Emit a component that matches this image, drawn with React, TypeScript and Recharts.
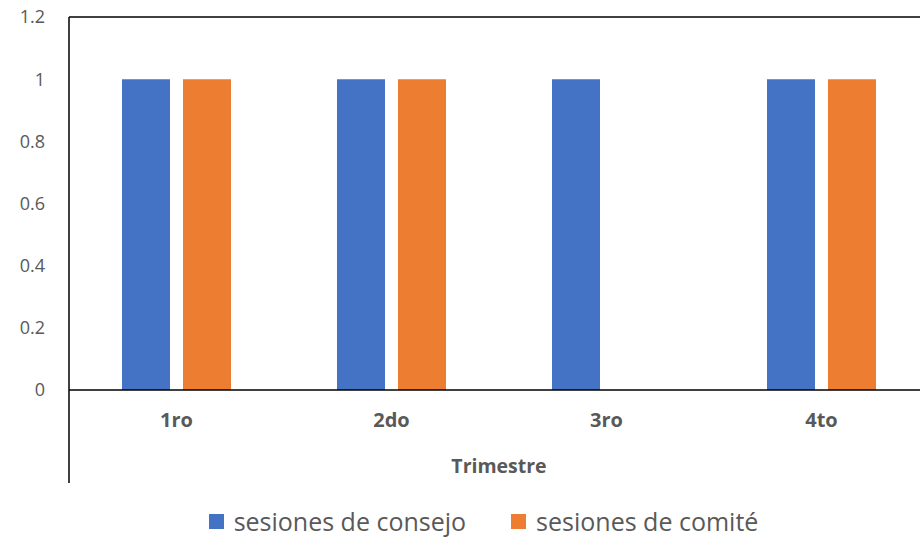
import React from 'react';
import { BarChart, Bar, XAxis, YAxis, Legend, ReferenceLine } from 'recharts';

const trimestres = ['1ro', '2do', '3ro', '4to'];
const sesionesConsejo = [1, 1, 1, 1];
const sesionesComite = [1, 1, 0, 1];
const yTicks = [0, 0.2, 0.4, 0.6, 0.8, 1, 1.2];
const seriesNames = ['sesiones de consejo', 'sesiones de comité'];

const data = trimestres.map((t, i) => ({
  trimestre: t,
  consejo: sesionesConsejo[i],
  comite: sesionesComite[i],
}));

const FONT = '"Open Sans", "Noto Sans", sans-serif';
const GRAY = '#595959';

// axis title plus the left rule that Excel extends below the plot area
function AxisTitle(props: any) {
  const vb = props.viewBox || {};
  const x = vb.x ?? 0;
  const y = vb.y ?? 0;
  const w = vb.width ?? 0;
  const h = vb.height ?? 0;
  return (
    <g>
      <line x1={x} y1={y} x2={x} y2={y + h} stroke="#000" strokeWidth={1.5} />
      <text
        x={x + w / 2}
        y={y + h - 10}
        textAnchor="middle"
        fontFamily={FONT}
        fontSize={19.5}
        fontWeight={700}
        fill={GRAY}
      >
        Trimestre
      </text>
    </g>
  );
}

function LegendContent({ payload }: any) {
  const items = [...(payload || [])].sort(
    (a: any, b: any) => seriesNames.indexOf(a.value) - seriesNames.indexOf(b.value)
  );
  return (
    <div style={{ display: 'flex', justifyContent: 'center', gap: 45, fontFamily: FONT }}>
      {items.map((p: any) => (
        <div key={p.value} style={{ display: 'flex', alignItems: 'center', gap: 10 }}>
          <span style={{ display: 'inline-block', width: 15, height: 15, background: p.color }} />
          <span style={{ fontSize: 25, color: GRAY, lineHeight: '30px' }}>{p.value}</span>
        </div>
      ))}
    </div>
  );
}

export default function App() {
  return (
    <div style={{ position: 'absolute', left: 0, top: 0, width: 920, height: 537, overflow: 'hidden', background: '#fff' }}>
      <BarChart
        width={929}
        height={537}
        data={data}
        margin={{ top: 17, right: 0, left: 0, bottom: 0 }}
        barSize={48}
        barGap={13}
      >
        <YAxis
          width={69}
          domain={[0, 1.2]}
          ticks={yTicks}
          tickLine={false}
          tickSize={0}
          tickMargin={24}
          axisLine={{ stroke: '#000', strokeWidth: 1.5 }}
          tick={{ fill: GRAY, fontSize: 18, fontFamily: FONT }}
        />
        <XAxis
          dataKey="trimestre"
          height={93}
          tickLine={false}
          tickSize={0}
          tickMargin={23}
          axisLine={{ stroke: '#000', strokeWidth: 1.5 }}
          tick={{ fill: GRAY, fontSize: 20, fontWeight: 700, fontFamily: FONT }}
          label={<AxisTitle />}
        />
        <ReferenceLine y={1.2} stroke="#000" strokeWidth={1.5} />
        <Legend
          verticalAlign="bottom"
          content={<LegendContent />}
          wrapperStyle={{
            bottom: 0,
            height: 54,
            boxSizing: 'border-box',
            paddingBottom: 1,
            paddingLeft: 47,
            display: 'flex',
            alignItems: 'flex-end',
            justifyContent: 'center',
            width: 920,
            left: 0,
          }}
        />
        <Bar dataKey="consejo" name={seriesNames[0]} fill="#4472C4" isAnimationActive={false} />
        <Bar dataKey="comite" name={seriesNames[1]} fill="#ED7D31" isAnimationActive={false} />
      </BarChart>
    </div>
  );
}
